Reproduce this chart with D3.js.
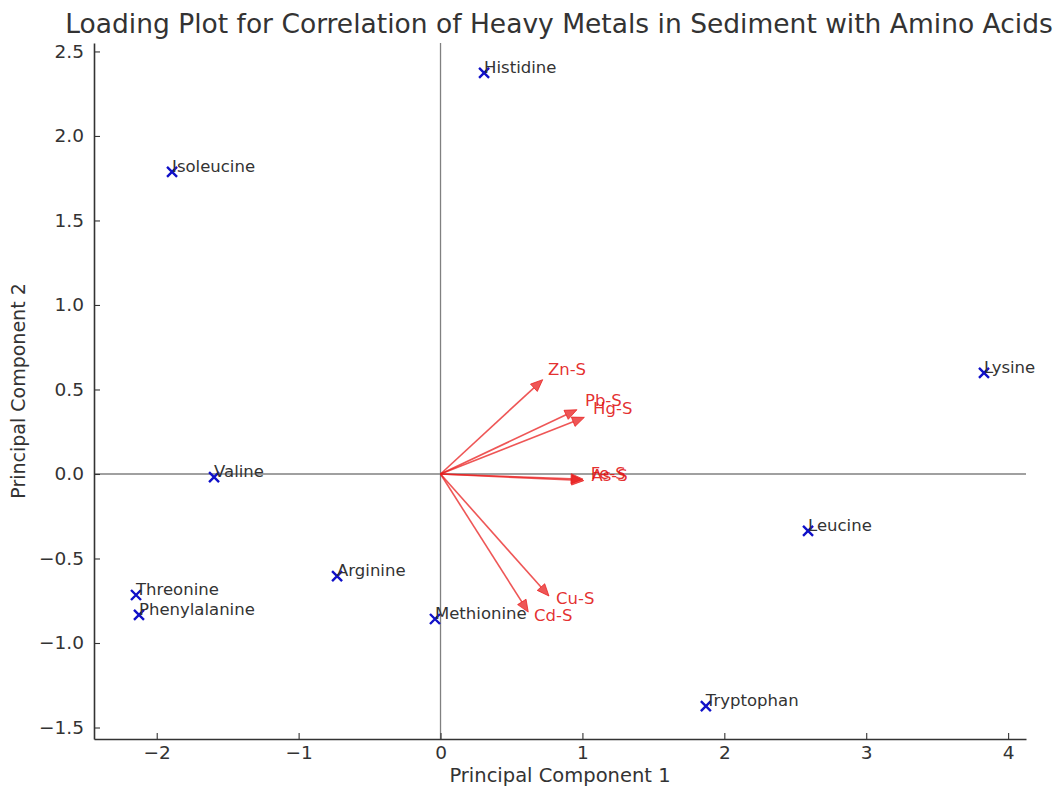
<!DOCTYPE html>
<html>
<head>
<meta charset="utf-8">
<script src="https://cdn.jsdelivr.net/npm/d3@7"></script>
<style>
  body { margin: 0; background: #fff; }
  svg { display: block; font-family: "DejaVu Sans", sans-serif; }
</style>
</head>
<body>
<svg id="chart" width="1062" height="786"></svg>
<script>
// Amino acid scores on the first two principal components
const aminoAcids = ["Histidine", "Isoleucine", "Lysine", "Valine", "Leucine", "Arginine",
                    "Threonine", "Phenylalanine", "Methionine", "Tryptophan"];
const pc1Scores = [0.307, -1.892, 3.83, -1.596, 2.59, -0.729, -2.146, -2.125, -0.039, 1.87];
const pc2Scores = [2.373, 1.787, 0.598, -0.018, -0.337, -0.604, -0.716, -0.834, -0.858, -1.373];

// Heavy metal loadings in sediment
const metals = ["Zn-S", "Pb-S", "Hg-S", "Fe-S", "As-S", "Cu-S", "Cd-S"];
const pc1Loadings = [0.658, 0.885, 0.935, 0.92, 0.925, 0.708, 0.573];
const pc2Loadings = [0.51, 0.35, 0.309, -0.028, -0.036, -0.669, -0.757];
const labelScale = 1.15;

const xTicks = [-2, -1, 0, 1, 2, 3, 4];
const yTicks = [-1.5, -1.0, -0.5, 0.0, 0.5, 1.0, 1.5, 2.0, 2.5];

const titleText = "Loading Plot for Correlation of Heavy Metals in Sediment with Amino Acids";
const xLabel = "Principal Component 1";
const yLabel = "Principal Component 2";

const svg = d3.select("#chart");
const plot = { left: 94, right: 1026, top: 43, bottom: 739 };

const x = d3.scaleLinear().domain([-2.442, 4.126]).range([plot.left, plot.right]);
const y = d3.scaleLinear().domain([-1.568, 2.55]).range([plot.bottom, plot.top]);

const textColor = "#333333";

// Reference lines through the origin
svg.append("line")
  .attr("x1", x(0)).attr("x2", x(0))
  .attr("y1", plot.top).attr("y2", plot.bottom)
  .attr("stroke", "#808080").attr("stroke-width", 1.3);
svg.append("line")
  .attr("x1", plot.left).attr("x2", plot.right)
  .attr("y1", y(0)).attr("y2", y(0))
  .attr("stroke", "#808080").attr("stroke-width", 1.3);

// Axes (ticks pointing inward)
const xAxis = svg.append("g")
  .attr("transform", `translate(0,${plot.bottom})`)
  .call(d3.axisBottom(x).tickValues(xTicks).tickSizeInner(-6).tickSizeOuter(0)
        .tickFormat(d => d3.format("d")(d).replace("-", "\u2212")));
xAxis.select(".domain").attr("stroke", "#333").attr("stroke-width", 1.6);
xAxis.selectAll(".tick line").attr("stroke", "#333").attr("stroke-width", 1.1);
xAxis.selectAll(".tick text")
  .attr("y", 7).attr("dy", "0.71em")
  .attr("font-size", 18.5).attr("fill", textColor)
  .attr("font-family", "DejaVu Sans, sans-serif");

const yAxis = svg.append("g")
  .attr("transform", `translate(${plot.left},0)`)
  .call(d3.axisLeft(y).tickValues(yTicks).tickSizeInner(-6).tickSizeOuter(0)
        .tickFormat(d => d3.format(".1f")(d).replace("-", "\u2212")));
yAxis.select(".domain").attr("stroke", "#333").attr("stroke-width", 1.6);
yAxis.selectAll(".tick line").attr("stroke", "#333").attr("stroke-width", 1.1);
yAxis.selectAll(".tick text")
  .attr("x", -10)
  .attr("font-size", 18.5).attr("fill", textColor)
  .attr("font-family", "DejaVu Sans, sans-serif");

// Loading arrows
const metalData = metals.map((m, i) => ({ name: m, px: pc1Loadings[i], py: pc2Loadings[i] }));
const arrowColor = "rgba(232, 30, 30, 0.75)";
const headLen = 12, headHalf = 5;
const arrows = svg.append("g");
metalData.forEach(d => {
  const x0 = x(0), y0 = y(0), x1 = x(d.px), y1 = y(d.py);
  const dx = x1 - x0, dy = y1 - y0, len = Math.hypot(dx, dy);
  const ux = dx / len, uy = dy / len;
  const tipX = x1 + ux * headLen, tipY = y1 + uy * headLen;
  arrows.append("line")
    .attr("x1", x0).attr("y1", y0).attr("x2", x1).attr("y2", y1)
    .attr("stroke", arrowColor).attr("stroke-width", 1.6);
  arrows.append("path")
    .attr("d", `M${tipX},${tipY} L${x1 - uy * headHalf},${y1 + ux * headHalf} L${x1 + uy * headHalf},${y1 - ux * headHalf} Z`)
    .attr("fill", arrowColor).attr("stroke", arrowColor).attr("stroke-width", 1);
});
svg.append("g").selectAll("text")
  .data(metalData).join("text")
  .attr("x", d => x(d.px * labelScale))
  .attr("y", d => y(d.py * labelScale))
  .attr("font-size", 16.5)
  .attr("fill", "rgba(225, 20, 20, 0.9)")
  .text(d => d.name);

// Amino acid score markers and names
const acidData = aminoAcids.map((a, i) => ({ name: a, px: pc1Scores[i], py: pc2Scores[i] }));
const s = 5;
const marks = svg.append("g");
acidData.forEach(d => {
  const cx = x(d.px), cy = y(d.py);
  marks.append("path")
    .attr("d", `M${cx - s},${cy - s} L${cx + s},${cy + s} M${cx - s},${cy + s} L${cx + s},${cy - s}`)
    .attr("stroke", "#1010c8").attr("stroke-width", 2.4).attr("fill", "none");
});
svg.append("g").selectAll("text")
  .data(acidData).join("text")
  .attr("x", d => x(d.px))
  .attr("y", d => y(d.py))
  .attr("font-size", 16.5)
  .attr("fill", textColor)
  .text(d => d.name);

// Title and axis labels
svg.append("text")
  .attr("x", 559).attr("y", 33)
  .attr("text-anchor", "middle")
  .attr("font-size", 26.5).attr("fill", textColor)
  .text(titleText);
svg.append("text")
  .attr("x", 560).attr("y", 782)
  .attr("text-anchor", "middle")
  .attr("font-size", 19.5).attr("fill", textColor)
  .text(xLabel);
svg.append("text")
  .attr("transform", `translate(25,${(plot.top + plot.bottom) / 2}) rotate(-90)`)
  .attr("text-anchor", "middle")
  .attr("font-size", 19).attr("fill", textColor)
  .text(yLabel);
</script>
</body>
</html>
